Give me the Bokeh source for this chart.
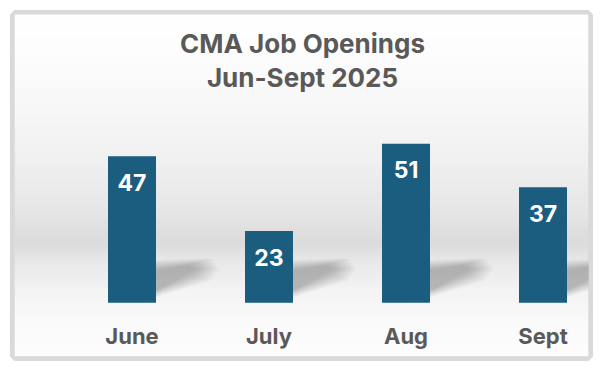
from bokeh.plotting import figure
from bokeh.models import Range1d, Label
from bokeh.core.properties import value
from bokeh.embed import file_html
from bokeh.resources import INLINE

# ---- data ----
months = ["June", "July", "Aug", "Sept"]
openings = [47, 23, 51, 37]
title_lines = ["CMA Job Openings", "Jun-Sept 2025"]

FONT = "Inter"

# ---- layout constants (page pixels) ----
W, H = 598, 369
F_L, F_R, F_T, F_B = 14, 588, 14, 356          # frame edges on the page
FW, FH = F_R - F_L, F_B - F_T
PX_X = 137.0                                   # px per category
PX_Y = 3.12                                    # px per unit
x0_px = 131.5 - F_L                            # first category centre from frame left
base_px = F_B - 302.3                          # baseline above frame bottom

xs, xe = -x0_px / PX_X, (FW - x0_px) / PX_X
ys, ye = -base_px / PX_Y, (FH - base_px) / PX_Y

def py(ref_y):
    return (F_B - ref_y) / PX_Y + ys

def px(ref_x):
    return (ref_x - F_L) / PX_X + xs

p = figure(width=W, height=H, output_backend="svg", toolbar_location=None,
           x_range=Range1d(xs, xe), y_range=Range1d(ys, ye),
           min_border_left=F_L, min_border_right=W - F_R,
           min_border_top=F_T, min_border_bottom=H - F_B,
           border_fill_color="#ffffff", background_fill_color="#ffffff",
           outline_line_color="#d9d9d9", outline_line_width=9)
p.axis.visible = False
p.grid.visible = False

# ---- background vertical gradient ----
stops = [(11, 255), (60, 252), (120, 246), (170, 238), (210, 230), (243, 219),
         (262, 232), (290, 243), (320, 249), (358, 253)]
n = 90
bot, top, cols = [], [], []
for i in range(n):
    r0 = F_T + FH * i / n
    r1 = F_T + FH * (i + 1) / n
    rm = (r0 + r1) / 2
    c = 253
    for (a, ca), (b, cb) in zip(stops[:-1], stops[1:]):
        if a <= rm <= b:
            c = ca + (cb - ca) * (rm - a) / (b - a)
            break
    c = int(round(c))
    top.append(py(r0) + 0.3)
    bot.append(py(r1))
    cols.append("#%02x%02x%02x" % (c, c, c))
p.quad(left=xs, right=xe, bottom=bot, top=top, fill_color=cols, line_color=None)

# ---- soft shadows (tapered, layered for blur) ----
bar_w = 48 / PX_X
for i, v in enumerate(openings):
    rx = i + bar_w / 2
    for j in range(16):
        k = 16 - j
        reach = 30 + 1.6 * k
        pts = [(-2 - k, 11 - 0.7 * k), (-2 - k, 31 + 0.7 * k),
               (reach, 37 + 0.5 * k), (reach + 8, 34), (reach, 30 - 0.5 * k)]
        xs_ = [rx + dx / PX_X for dx, dy in pts]
        ys_ = [dy / PX_Y for dx, dy in pts]
        p.patch(xs_, ys_, fill_color="black", fill_alpha=0.014, line_color=None)

# ---- bars ----
xi = list(range(len(months)))
p.vbar(x=xi, top=openings, bottom=0, width=bar_w,
       fill_color="#1a5d7f", line_color=None)

# ---- value labels ----
p.text(x=xi, y=[v - 26 / PX_Y for v in openings], text=[str(v) for v in openings],
       text_color="white", text_font=value(FONT), text_font_style="bold",
       text_font_size="23px", text_align="center", text_baseline="middle")

# ---- category labels ----
p.text(x=xi, y=[py(335)] * len(months), text=months,
       text_color="#595959", text_font=value(FONT), text_font_style="bold",
       text_font_size="22px", text_align="center", text_baseline="middle")

# ---- title ----
for line, ry in zip(title_lines, [43, 77]):
    p.add_layout(Label(x=px(302), y=py(ry), text=line, text_align="center",
                       text_baseline="middle", text_color="#595959",
                       text_font=FONT, text_font_style="bold",
                       text_font_size="26px"))

open("out.html", "w").write(file_html(p, INLINE))
